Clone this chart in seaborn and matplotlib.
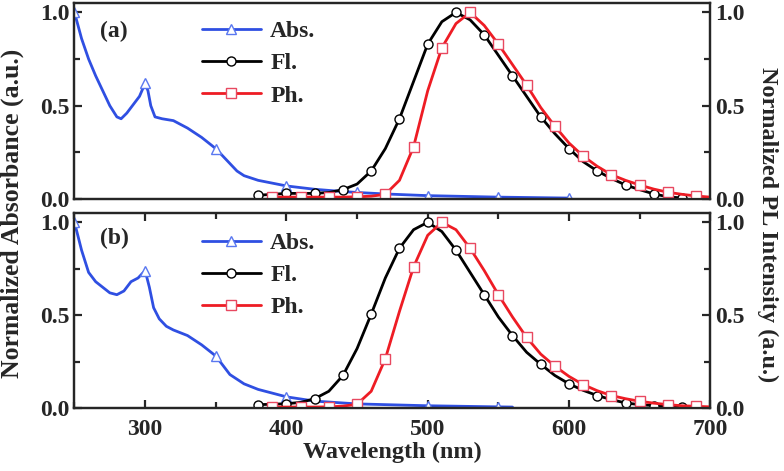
import pandas as pd
import seaborn as sns
import matplotlib.pyplot as plt
from matplotlib.ticker import MultipleLocator

# Absorption spectra (panel a / panel b)
abs_wl_a = [250, 255, 260, 265, 270, 275, 280, 283, 287, 292, 296, 300, 302, 304, 307, 312, 320, 330,
            340, 350, 355, 360, 365, 370, 380, 390, 400, 420, 440, 450, 470, 500, 550, 600]
abs_a = [1.00, 0.86, 0.75, 0.66, 0.58, 0.50, 0.44, 0.43, 0.46, 0.51, 0.55, 0.62, 0.58, 0.50, 0.44, 0.43,
         0.42, 0.38, 0.33, 0.27, 0.23, 0.19, 0.15, 0.125, 0.10, 0.085, 0.07, 0.052, 0.04, 0.035, 0.027,
         0.018, 0.01, 0.005]

abs_wl_b = [250, 255, 260, 265, 270, 275, 280, 285, 290, 295, 300, 303, 306, 310, 315, 320, 330, 340,
            350, 360, 370, 380, 390, 400, 420, 450, 500, 550, 560]
abs_b = [1.00, 0.85, 0.73, 0.68, 0.65, 0.62, 0.61, 0.63, 0.68, 0.70, 0.74, 0.65, 0.54, 0.48, 0.44, 0.42,
         0.39, 0.34, 0.28, 0.18, 0.13, 0.10, 0.08, 0.06, 0.037, 0.022, 0.012, 0.006, 0.005]

# Fluorescence spectra
fl_wl = [380, 390, 400, 410, 420, 430, 440, 450, 460, 470, 480, 490, 500, 510, 520, 530, 540, 550,
         560, 570, 580, 590, 600, 610, 620, 630, 640, 650, 660, 670, 680]
fl_a = [0.02, 0.025, 0.03, 0.03, 0.03, 0.035, 0.05, 0.08, 0.15, 0.27, 0.43, 0.63, 0.83, 0.95, 1.0, 0.96,
        0.88, 0.77, 0.66, 0.55, 0.44, 0.35, 0.27, 0.20, 0.15, 0.11, 0.075, 0.05, 0.027, 0.012, 0.005]
fl_b = [0.018, 0.02, 0.023, 0.03, 0.05, 0.09, 0.175, 0.32, 0.505, 0.70, 0.86, 0.96, 1.0, 0.95, 0.85,
        0.73, 0.61, 0.49, 0.39, 0.30, 0.235, 0.175, 0.13, 0.095, 0.067, 0.045, 0.027, 0.018, 0.013,
        0.008, 0.005]

# Phosphorescence spectra
ph_wl = [390, 400, 410, 420, 430, 440, 450, 460, 470, 480, 490, 500, 510, 520, 530, 540, 550, 560,
         570, 580, 590, 600, 610, 620, 630, 640, 650, 660, 670, 680, 690, 700]
ph_a = [0.01, 0.01, 0.01, 0.01, 0.01, 0.01, 0.012, 0.015, 0.025, 0.10, 0.28, 0.58, 0.81, 0.94, 1.0, 0.93,
        0.83, 0.72, 0.61, 0.49, 0.39, 0.30, 0.23, 0.175, 0.13, 0.10, 0.075, 0.053, 0.036, 0.025, 0.016,
        0.01]
ph_b = [0.005, 0.005, 0.005, 0.005, 0.006, 0.01, 0.02, 0.09, 0.265, 0.52, 0.76, 0.93, 1.0, 0.96, 0.86,
        0.74, 0.61, 0.49, 0.38, 0.29, 0.225, 0.17, 0.126, 0.093, 0.067, 0.05, 0.036, 0.026, 0.018, 0.012,
        0.009, 0.006]

panel_labels = ['(a)', '(b)']
legend_labels = ['Abs.', 'Fl.', 'Ph.']

sns.set_style('ticks')
plt.rcParams['font.family'] = ['Liberation Serif', 'DejaVu Serif']
plt.rcParams['font.weight'] = 'bold'
plt.rcParams['axes.labelweight'] = 'bold'
plt.rcParams['axes.linewidth'] = 1.6

blue, black, red = '#2f4fe2', '#000000', '#ee1c24'

fig = plt.figure(figsize=(7.84, 4.71), dpi=100)
ax_a = fig.add_axes([0.095, 0.5775, 0.811, 0.416])
ax_b = fig.add_axes([0.095, 0.1338, 0.811, 0.414])


def every(wl, step, start):
    return [i for i, w in enumerate(wl) if w >= start and (w - start) % step == 0]


def draw_panel(ax, abs_wl, abs_y, fl_y, ph_y, tag, show_x, leg_y, tag_y):
    ax2 = ax.twinx()
    sns.lineplot(x=abs_wl, y=abs_y, ax=ax, color=blue, lw=2, marker='^', markersize=7,
                 markevery=every(abs_wl, 50, 250), markerfacecolor='white',
                 markeredgecolor='#5a78f0', markeredgewidth=1, legend=False)
    sns.lineplot(x=fl_wl, y=fl_y, ax=ax2, color=black, lw=2, marker='o', markersize=6.5,
                 markevery=every(fl_wl, 20, 380), markerfacecolor='white',
                 markeredgecolor='black', markeredgewidth=1, legend=False)
    sns.lineplot(x=ph_wl, y=ph_y, ax=ax2, color=red, lw=2, marker='s', markersize=6.5,
                 markevery=every(ph_wl, 20, 390), markerfacecolor='white',
                 markeredgecolor='#e84860', markeredgewidth=1, legend=False)
    handles = [ax.lines[0], ax2.lines[0], ax2.lines[1]]

    for a in (ax, ax2):
        a.set_xlim(250, 700)
        a.set_ylim(0, 1.05)
        a.yaxis.set_major_locator(MultipleLocator(0.5))
        a.yaxis.set_minor_locator(MultipleLocator(0.25))
        a.xaxis.set_major_locator(MultipleLocator(100))
        a.xaxis.set_minor_locator(MultipleLocator(50))
        a.set_ylabel('')
        a.tick_params(which='both', direction='in', width=1.6, labelsize=17)
        a.tick_params(which='major', length=6)
        a.tick_params(which='minor', length=4)
        a.tick_params(axis='x', which='both', pad=8)
        for s in a.spines.values():
            s.set_visible(True)
            s.set_linewidth(1.6)
    ax.tick_params(axis='y', which='both', left=True, right=False)
    ax2.tick_params(axis='y', which='both', left=False, right=True, labelright=True)
    for a in (ax, ax2):
        if show_x:
            a.tick_params(axis='x', which='both', bottom=True, top=True, labelbottom=True)
        else:
            a.tick_params(axis='x', which='both', bottom=False, top=False, labelbottom=False)
    ax.yaxis.set_major_formatter(plt.FormatStrFormatter('%.1f'))
    ax2.yaxis.set_major_formatter(plt.FormatStrFormatter('%.1f'))

    ax2.legend(handles, legend_labels, loc='upper left', bbox_to_anchor=(0.2, leg_y),
               frameon=False, fontsize=17, handlelength=2.5, handletextpad=0.4,
               labelspacing=0.45, borderpad=0, borderaxespad=0, numpoints=1)
    ax2.text(0.04, tag_y, tag, transform=ax2.transAxes, fontsize=17, fontweight='bold',
             va='center', ha='left')
    return ax2


draw_panel(ax_a, abs_wl_a, abs_a, fl_a, ph_a, panel_labels[0], False, 0.91, 0.855)
draw_panel(ax_b, abs_wl_b, abs_b, fl_b, ph_b, panel_labels[1], True, 0.9, 0.87)

ax_b.set_xlabel('Wavelength (nm)', fontsize=17.5, fontweight='bold', labelpad=1)
fig.text(0.016, 0.548, 'Normalized Absorbance (a.u.)', rotation=90, fontsize=18.5,
         fontweight='bold', ha='center', va='center')
fig.text(0.979, 0.524, 'Normalized PL Intensity (a.u.)', rotation=270, fontsize=17.5,
         fontweight='bold', ha='center', va='center')

plt.savefig('out.png', dpi=100)
